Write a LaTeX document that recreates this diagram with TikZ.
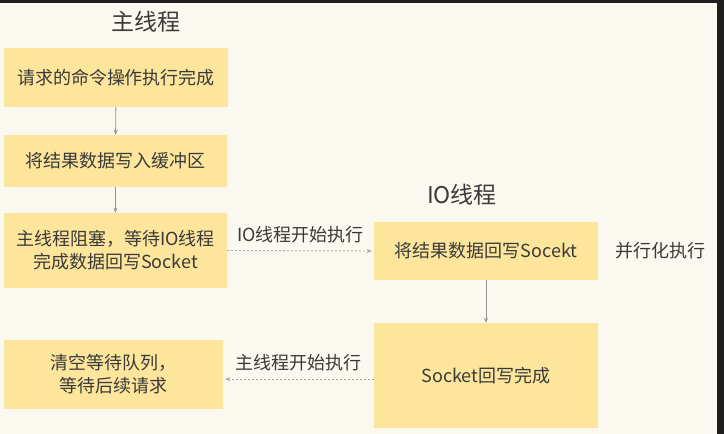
\documentclass[tikz,border=0pt]{standalone}
\usepackage{fontspec}
\setmainfont{Noto Sans CJK SC}
\usepackage{tikz}
\usetikzlibrary{arrows.meta}
\definecolor{paper}{HTML}{FAF8EF}
\definecolor{frame}{HTML}{1F1F1F}
\definecolor{boxfill}{HTML}{FDE59C}
\definecolor{ink}{HTML}{3A3A3A}
\colorlet{wire}{black!42}
\tikzset{
  every node/.style={text=ink,font=\fontsize{18}{23}\selectfont},
  taskbox/.style={fill=boxfill,align=center,inner sep=0pt},
  flow/.style={draw=wire,line width=0.9pt,-{Stealth[length=5pt,width=4pt]}},
  handoff/.style={flow,draw=black!35,dash pattern=on 2pt off 2pt,shorten >=2pt},
  heading/.style={font=\fontsize{23}{26}\selectfont},
}
\begin{document}
\begin{tikzpicture}[x=1pt,y=-1pt]
\useasboundingbox (0,0) rectangle (724,434);
\fill[paper] (0,0) rectangle (724,434);
\fill[frame] (0,0) rectangle (724,3);
\fill[frame] (717,0) rectangle (724,434);
\node[heading] (mainhead) at (146,22) {主线程};
\node[heading] (iohead) at (462,195) {IO线程};
\node[taskbox,minimum width=224pt,minimum height=59pt] (req) at (116,77.5) {请求的命令操作执行完成};
\node[taskbox,minimum width=223pt,minimum height=52pt] (buf) at (115.5,161) {将结果数据写入缓冲区};
\node[taskbox,minimum width=223pt,minimum height=75pt] (block) at (115.5,250.5) {主线程阻塞，等待IO线程\\完成数据回写Socket};
\node[taskbox,minimum width=219pt,minimum height=69pt] (clear) at (113.5,374.5) {清空等待队列，\\等待后续请求};
\node[taskbox,minimum width=224pt,minimum height=58pt] (iowrite) at (486,251) {将结果数据回写Socekt};
\node[taskbox,minimum width=224pt,minimum height=105pt] (iodone) at (486,375.5) {Socket回写完成};
\node (parallel) at (660,251) {并行化执行};
\draw[flow] (req) -- (buf);
\draw[flow] (buf) -- (block);
\draw[flow] (iowrite) -- (iodone);
\draw[handoff] (block.east) -- node[above=4pt] (iostart) {IO线程开始执行} (iowrite.west);
\draw[handoff] (iodone.west |- 0,379) -- node[above=4pt] (mainstart) {主线程开始执行} (clear.east |- 0,379);
\end{tikzpicture}
\end{document}
